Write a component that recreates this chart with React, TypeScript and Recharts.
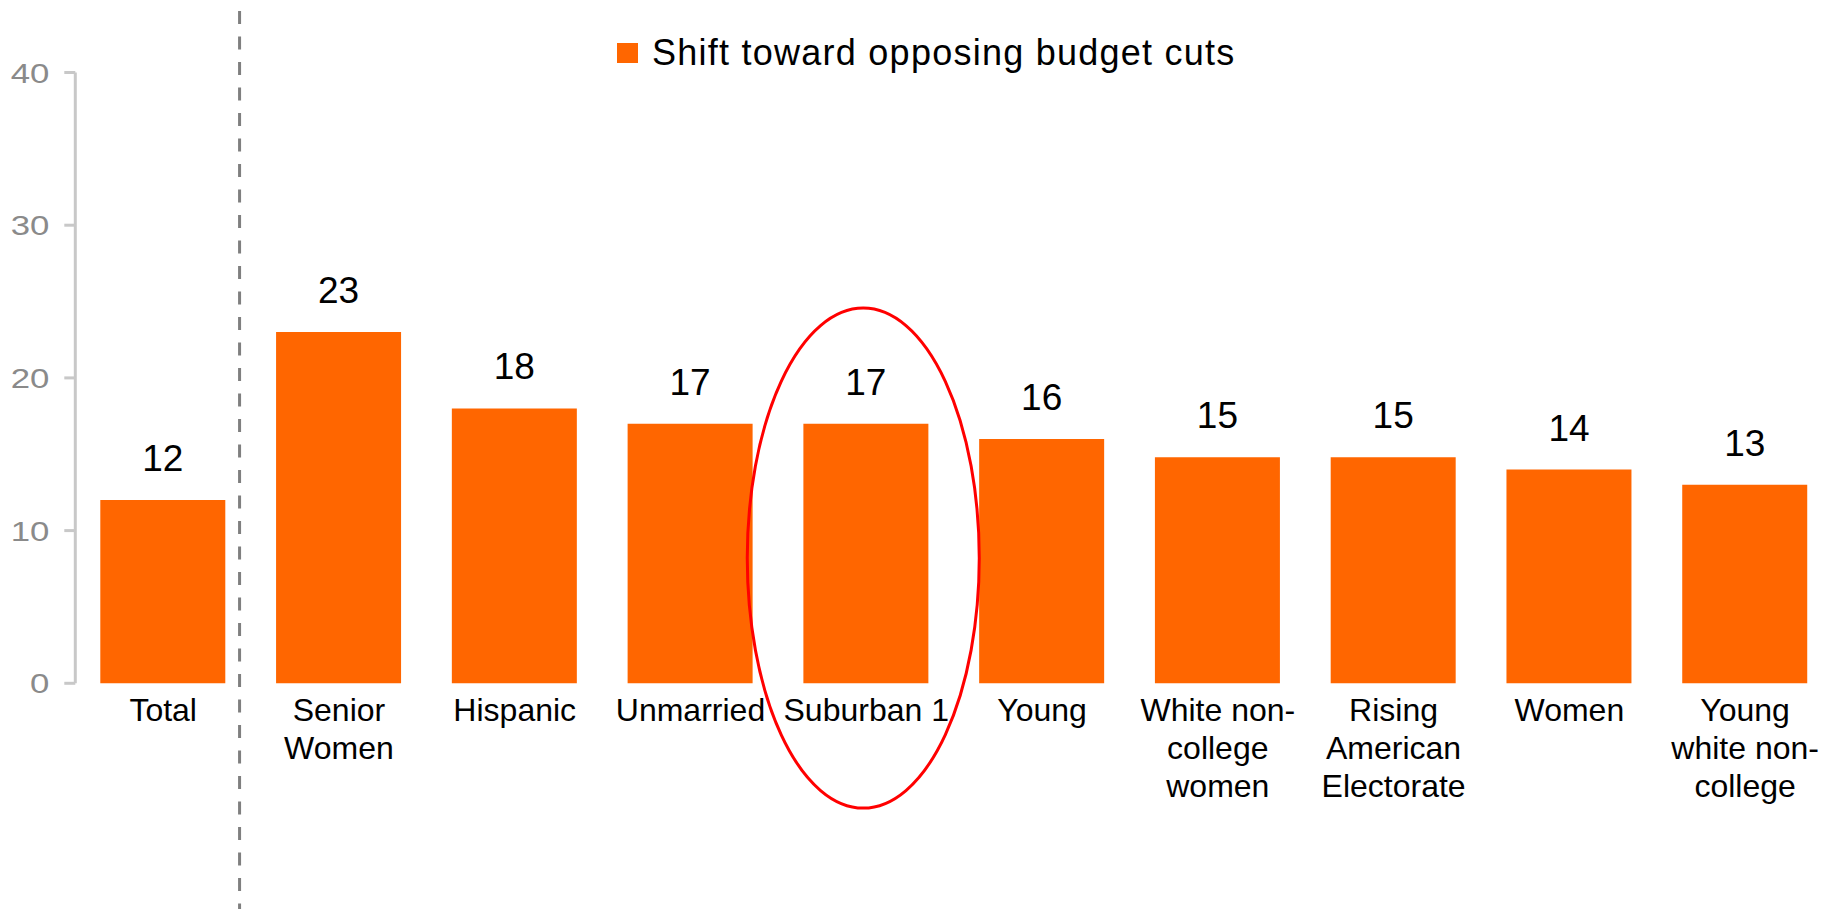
import React from "react";
import {
  BarChart,
  Bar,
  XAxis,
  YAxis,
  LabelList,
  Legend,
  ReferenceLine,
  ReferenceDot,
} from "recharts";

const categories = [
  "Total",
  "Senior\nWomen",
  "Hispanic",
  "Unmarried",
  "Suburban 1",
  "Young",
  "White non-\ncollege\nwomen",
  "Rising\nAmerican\nElectorate",
  "Women",
  "Young\nwhite non-\ncollege",
];
const shiftValues = [12, 23, 18, 17, 17, 16, 14.8, 14.8, 14, 13];
const yTicks = [0, 10, 20, 30, 40];
const seriesName = "Shift toward opposing budget cuts";
const dividerAfter = "Total";
const highlighted = "Suburban 1";

const data = categories.map((category, i) => ({
  category,
  value: shiftValues[i],
}));

const FONT = '"Liberation Sans", Arial, Helvetica, sans-serif';
const ORANGE = "#FF6600";

// y tick labels in the original look stretched sideways
const YTick = ({ x, y, payload }: any) => (
  <g transform={`translate(${x},${y}) scale(1.22,1)`}>
    <text
      x={0}
      y={0}
      dy="0.355em"
      textAnchor="end"
      fill="#8a8a8a"
      fontSize={28.5}
      fontFamily={FONT}
    >
      {payload.value}
    </text>
  </g>
);

const XTick = ({ x, y, payload }: any) => {
  const lines = String(payload.value).split("\n");
  return (
    <text x={x} y={y} textAnchor="middle" fill="#000" fontSize={32} fontFamily={FONT}>
      {lines.map((line, i) => (
        <tspan key={i} x={x} dy={i === 0 ? 38 : 38}>
          {line}
        </tspan>
      ))}
    </text>
  );
};

const LegendContent = ({ payload }: any) => (
  <div style={{ display: "flex", alignItems: "center" }}>
    {(payload || []).map((p: any) => (
      <div key={p.value} style={{ display: "flex", alignItems: "center" }}>
        <span
          style={{
            display: "inline-block",
            width: 21,
            height: 20,
            background: p.color,
            marginRight: 14,
          }}
        />
        <span
          style={{
            fontSize: 36,
            fontFamily: FONT,
            color: "#000",
            letterSpacing: 1.25,
            lineHeight: 1,
            whiteSpace: "nowrap",
          }}
        >
          {p.value}
        </span>
      </div>
    ))}
  </div>
);

export default function App() {
  return (
    <div
      style={{
        position: "fixed",
        left: 0,
        top: 0,
        width: 1822,
        height: 909,
        overflow: "hidden",
        background: "#fff",
      }}
    >
      <BarChart
        width={1840}
        height={909}
        data={data}
        margin={{ top: 72.5, right: 7, bottom: 0, left: 0 }}
        barSize={125}
      >
        <XAxis
          dataKey="category"
          interval={0}
          axisLine={false}
          tickLine={false}
          tickSize={0}
          tickMargin={0}
          height={225.7}
          tick={<XTick />}
        />
        <YAxis
          domain={[0, 40]}
          ticks={yTicks}
          width={75.3}
          tickSize={11}
          tickMargin={15}
          axisLine={{ stroke: "#c8c8c8", strokeWidth: 3 }}
          tickLine={{ stroke: "#c8c8c8", strokeWidth: 3 }}
          tick={<YTick />}
        />
        <Legend
          verticalAlign="middle"
          align="center"
          layout="horizontal"
          wrapperStyle={{ position: "absolute", left: 617, top: 35, width: "auto" }}
          content={<LegendContent />}
        />
        <Bar dataKey="value" name={seriesName} fill={ORANGE} isAnimationActive={false}>
          <LabelList
            dataKey="value"
            position="top"
            offset={29}
            formatter={(v: any) => Math.round(Number(v))}
            fill="#000"
            fontSize={37}
            fontFamily={FONT}
          />
        </Bar>
        <ReferenceLine
          x={dividerAfter}
          position="end"
          shape={(p: any) => (
            <line
              x1={p.x1 - 11.5}
              x2={p.x2 - 11.5}
              y1={11}
              y2={909}
              stroke="#7f7f7f"
              strokeWidth={3}
              strokeDasharray="13 12.5"
            />
          )}
        />
        <ReferenceDot
          x={highlighted}
          y={8.2}
          r={0}
          shape={(p: any) => (
            <ellipse
              cx={p.cx - 3}
              cy={p.cy}
              rx={116}
              ry={250}
              fill="none"
              stroke="#ff0000"
              strokeWidth={3}
            />
          )}
        />
      </BarChart>
    </div>
  );
}
